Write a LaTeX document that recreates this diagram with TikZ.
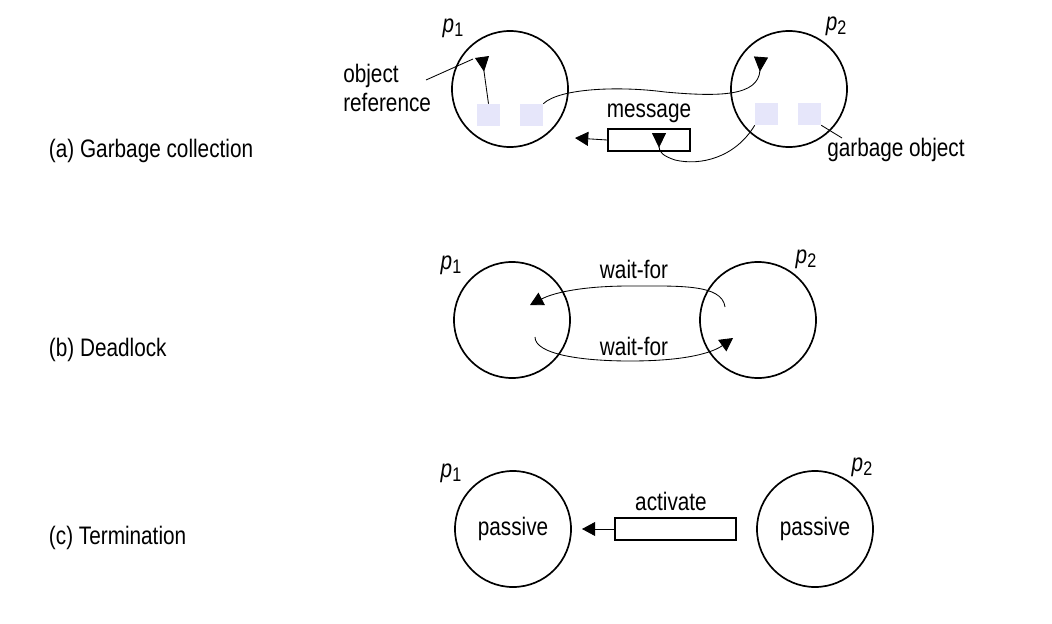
\documentclass[tikz,border=0pt]{standalone}
\usepackage{fontspec}
\setmainfont{Liberation Sans}[FakeStretch=0.82]
\usetikzlibrary{arrows.meta}

\definecolor{objfill}{RGB}{230,230,250}
\newcommand{\procname}[1]{{\itshape p}\raisebox{-0.3ex}{\fontsize{14}{14}\selectfont #1}}

\tikzset{
  proc/.style={circle, draw, line width=1.2pt, minimum size=2.9cm, inner sep=0pt},
  obj/.style={fill=objfill, minimum width=0.575cm, minimum height=0.55cm, inner sep=0pt},
  msgbox/.style={draw, line width=1.2pt, minimum height=0.55cm, inner sep=0pt},
  refline/.style={line width=0.6pt, -{Triangle[reversed, length=0.37cm, width=0.35cm]}},
  sendline/.style={line width=0.6pt, -{Triangle[length=0.33cm, width=0.35cm]}}
}

\begin{document}
\begin{tikzpicture}[x=0.025cm, y=-0.025cm, font=\fontsize{18}{21}\selectfont]
\useasboundingbox (0,0) rectangle (1052,624);

% (a) garbage collection
\node[anchor=west] (laba) at (44,151) {(a) Garbage collection};
\node[proc] (ga1) at (510,89) {};
\node[proc] (ga2) at (789,89) {};
\node (pa1) at (453,28) {\procname{1}};
\node (pa2) at (836,26) {\procname{2}};
\node[obj] (a1) at (488.5,115) {};
\node[obj] (a2) at (531.5,115) {};
\node[obj] (b1) at (766.5,114) {};
\node[obj] (b2) at (809.5,114) {};
\node[msgbox, minimum width=2.05cm] (msg) at (649,140) {};
\node (msglab) at (649,113) {message};
\node[anchor=west, align=left, inner sep=0pt] (objref) at (343,88) {object\\reference};
\node[anchor=west, inner sep=0pt] (garb) at (827,150) {garbage object};
\coordinate (r1) at (482,57);
\coordinate (r2) at (761,57);
\coordinate (m1) at (659,133);
\coordinate (sa) at (575,138);
\coordinate (oa) at (426,80);
\coordinate (ob) at (473,59);
\coordinate (gb) at (842,138);

\draw[refline] (a1.north) -- (r1);
\draw[refline] (a2.north east) .. controls (560,88) and (620,86) .. (665,92)
  .. controls (720,97) and (758,96) .. (r2);
\draw[refline] (b1.south west) .. controls (735,158) and (700,166) .. (675,160)
  .. controls (663,156) and (659,152) .. (m1);
\draw[sendline] (msg.west) -- (sa);
\draw[line width=0.6pt] (oa) -- (ob);
\draw[line width=0.6pt] (b2.south east) -- (gb);

% (b) deadlock
\node[anchor=west] (labb) at (44,350) {(b) Deadlock};
\node[proc] (gb1) at (512,320) {};
\node[proc] (gb2) at (758,320) {};
\node (pb1) at (451,265) {\procname{1}};
\node (pb2) at (806,259) {\procname{2}};
\node (wf1) at (634,269) {wait-for};
\node (wf2) at (634,346) {wait-for};
\coordinate (w1s) at (725,307);
\coordinate (w1e) at (530,305);
\coordinate (w2s) at (535,337);
\coordinate (w2e) at (733,338);
\draw[sendline] (w1s) .. controls (722,284) and (680,286) .. (630,286)
  .. controls (585,286) and (555,292) .. (w1e);
\draw[sendline] (w2s) .. controls (535,354) and (580,361) .. (630,361)
  .. controls (685,361) and (712,353) .. (w2e);

% (c) termination
\node[anchor=west] (labc) at (44,538) {(c) Termination};
\node[proc] (gc1) at (513,529) {\raisebox{-2pt}{passive}};
\node[proc] (gc2) at (815,529) {\raisebox{-2pt}{passive}};
\node (pc1) at (451,473) {\procname{1}};
\node (pc2) at (862,467) {\procname{2}};
\node[msgbox, minimum width=3.025cm] (act) at (675.5,529) {};
\node (actlab) at (671,501) {activate};
\coordinate (sc) at (582,529);
\draw[sendline] (act.west) -- (sc);
\end{tikzpicture}
\end{document}
